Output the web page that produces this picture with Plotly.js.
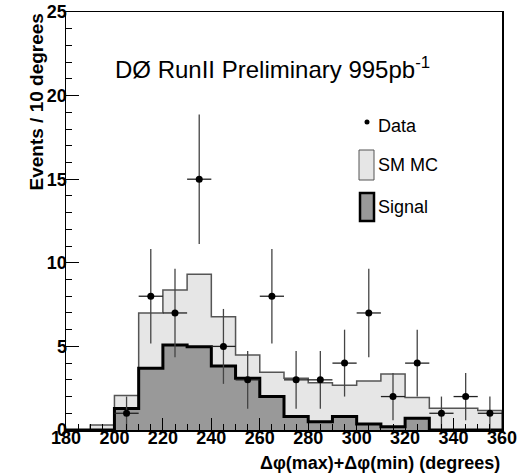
<!DOCTYPE html>
<html>
<head>
<meta charset="utf-8">
<script src="https://cdn.plot.ly/plotly-3.0.1.min.js"></script>
<style>
  html, body { margin: 0; padding: 0; background: #fff; }
  #chart { width: 531px; height: 473px; }
</style>
</head>
<body>
<div id="chart"></div>
<script>
// ---- Data ----
const binCenters   = [185, 195, 205, 215, 225, 235, 245, 255, 265, 275, 285, 295, 305, 315, 325, 335, 345, 355];
const mcValues     = [0, 0.3, 2.07, 7.0, 8.37, 9.31, 6.78, 4.49, 3.45, 3.1, 2.83, 2.67, 2.93, 3.35, 1.95, 1.3, 1.3, 1.16];
const signalValues = [0, 0, 1.29, 3.69, 5.08, 4.98, 3.83, 3.09, 2.0, 0.8, 0.5, 0.8, 0.36, 0.2, 0.7, 0, 0, 0];
const dataCenters  = [205, 215, 225, 235, 245, 255, 265, 275, 285, 295, 305, 315, 325, 335, 345, 355];
const dataCounts   = [1, 8, 7, 15, 5, 3, 8, 3, 3, 4, 7, 2, 4, 1, 2, 1];
const dataErrors   = [1, 2.83, 2.65, 3.87, 2.24, 1.73, 2.83, 1.73, 1.73, 2, 2.65, 1.41, 2, 1, 1.41, 1];
const binHalfWidth = 5;
const titleText = 'DØ RunII Preliminary 995pb<sup>-1</sup>';
const xTitle = 'Δφ(max)+Δφ(min) (degrees)';
const yTitle = 'Events / 10 degrees';
const legendLabels = ['Data', 'SM MC', 'Signal'];

function stepPath(centers, vals) {
  const xs = [centers[0] - binHalfWidth], ys = [0];
  centers.forEach((c, i) => { xs.push(c - binHalfWidth); ys.push(vals[i]); });
  const last = centers[centers.length - 1] + binHalfWidth;
  xs.push(last); ys.push(vals[vals.length - 1]);
  xs.push(last); ys.push(0);
  return { xs, ys };
}

const mc = stepPath(binCenters, mcValues);
const sig = stepPath(binCenters, signalValues);

const FONT = 'Liberation Sans, Arial, sans-serif';

const traces = [
  {
    x: mc.xs, y: mc.ys, type: 'scatter', mode: 'lines',
    line: { shape: 'hv', color: '#555555', width: 1.5 },
    fill: 'tozeroy', fillcolor: '#e6e6e6', hoverinfo: 'skip', showlegend: false
  },
  {
    x: sig.xs, y: sig.ys, type: 'scatter', mode: 'lines',
    line: { shape: 'hv', color: '#000000', width: 3 },
    fill: 'tozeroy', fillcolor: '#999999', hoverinfo: 'skip', showlegend: false
  },
  {
    x: dataCenters, y: dataCounts, type: 'scatter', mode: 'markers',
    marker: { symbol: 'circle', size: 7, color: '#000' },
    error_y: { type: 'data', array: dataErrors, visible: true, color: '#444', thickness: 1.3, width: 0 },
    error_x: { type: 'constant', value: binHalfWidth, visible: true, color: '#222', thickness: 1.3, width: 0 },
    showlegend: false, cliponaxis: false
  }
];

// plot area geometry (for placing legend items in paper coords)
const L = 66, R = 29, T = 12, B = 43, W = 531, H = 473;
const pw = W - L - R, ph = H - T - B;
const px = v => (v - L) / pw;
const py = v => (H - B - v) / ph;

const layout = {
  width: W, height: H,
  margin: { l: L, r: R, t: T, b: B, pad: 0 },
  paper_bgcolor: '#fff', plot_bgcolor: '#fff',
  showlegend: false,
  font: { family: FONT, color: '#000' },
  xaxis: {
    range: [180, 360], dtick: 20, tick0: 180,
    ticks: 'inside', ticklen: 12, tickwidth: 1, tickcolor: '#000',
    minor: { dtick: 5, ticks: 'inside', ticklen: 6, tickwidth: 1, tickcolor: '#000', showgrid: false },
    showline: true, linecolor: '#000', linewidth: 1.5, mirror: true,
    showgrid: false, zeroline: false,
    tickfont: { family: FONT, size: 18, color: '#000', weight: 'bold' },
    ticklabelstandoff: -9,
    fixedrange: true
  },
  yaxis: {
    range: [0, 25], dtick: 5, tick0: 0,
    ticks: 'inside', ticklen: 13, tickwidth: 1, tickcolor: '#000',
    minor: { dtick: 1, ticks: 'inside', ticklen: 6, tickwidth: 1, tickcolor: '#000', showgrid: false },
    showline: true, linecolor: '#000', linewidth: 1.5, mirror: true,
    showgrid: false, zeroline: false,
    tickfont: { family: FONT, size: 18, color: '#000', weight: 'bold' },
    ticklabelstandoff: -6,
    fixedrange: true
  },
  shapes: [
    // legend swatches
    { type: 'rect', xref: 'paper', yref: 'paper', x0: px(359), x1: px(374), y0: py(180), y1: py(150),
      fillcolor: '#e6e6e6', line: { color: '#555', width: 1 } },
    { type: 'rect', xref: 'paper', yref: 'paper', x0: px(360), x1: px(374), y0: py(221), y1: py(193),
      fillcolor: '#999999', line: { color: '#000', width: 2.5 } },
    { type: 'circle', xref: 'paper', yref: 'paper', x0: px(364.5), x1: px(369.5), y0: py(124.5), y1: py(119.5),
      fillcolor: '#000', line: { color: '#000', width: 0 } }
  ],
  annotations: [
    { text: titleText, xref: 'paper', yref: 'paper', x: px(113), y: py(68), xanchor: 'left', yanchor: 'middle',
      showarrow: false, font: { family: FONT, size: 24, color: '#000' } },
    { text: legendLabels[0], xref: 'paper', yref: 'paper', x: px(376), y: py(126), xanchor: 'left', yanchor: 'middle',
      showarrow: false, font: { family: FONT, size: 18, color: '#000' } },
    { text: legendLabels[1], xref: 'paper', yref: 'paper', x: px(376), y: py(165), xanchor: 'left', yanchor: 'middle',
      showarrow: false, font: { family: FONT, size: 18, color: '#000' } },
    { text: legendLabels[2], xref: 'paper', yref: 'paper', x: px(376), y: py(207), xanchor: 'left', yanchor: 'middle',
      showarrow: false, font: { family: FONT, size: 18, color: '#000' } },
    { text: xTitle, xref: 'paper', yref: 'paper', x: 1, y: py(463), xanchor: 'right', yanchor: 'middle',
      showarrow: false, font: { family: FONT, size: 18, color: '#000', weight: 'bold' } },
    { text: yTitle, xref: 'paper', yref: 'paper', x: px(36), y: 1, xanchor: 'center', yanchor: 'top', textangle: -90,
      showarrow: false, font: { family: FONT, size: 19, color: '#000', weight: 'bold' } }
  ]
};

Plotly.newPlot('chart', traces, layout, { staticPlot: true, displayModeBar: false });
</script>
</body>
</html>
